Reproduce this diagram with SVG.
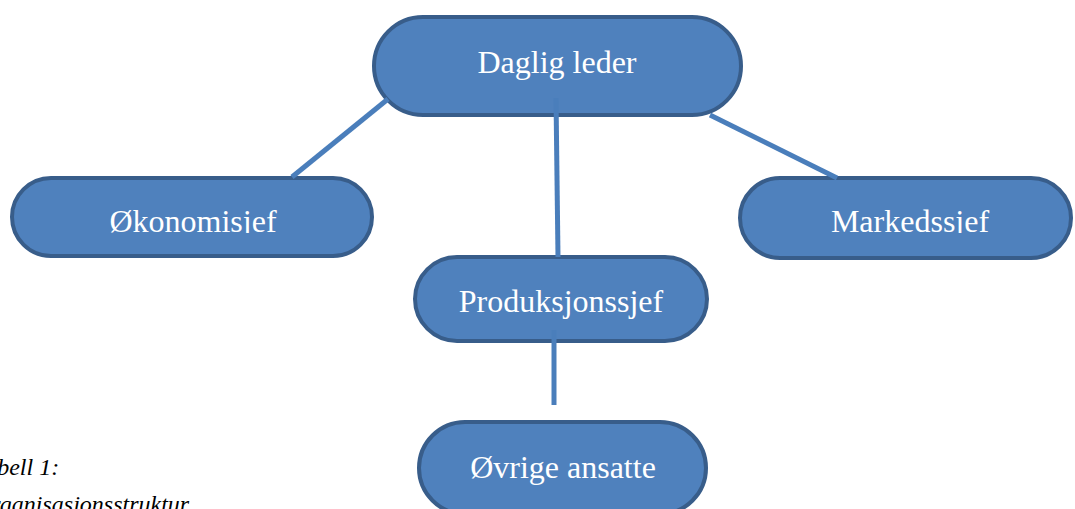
<svg xmlns="http://www.w3.org/2000/svg" width="1075" height="509" viewBox="0 0 1075 509">
<style>
.node{fill:#4F81BD;stroke:#385D8A;stroke-width:4}
.lbl{font-family:"Liberation Serif","Times New Roman",serif;font-size:32px;fill:#FFFFFF;text-anchor:middle}
.conn{stroke:#4A7EBB;stroke-width:5;fill:none}
.cap{font-family:"Liberation Serif","Times New Roman",serif;font-size:24px;font-style:italic;fill:#000000}
</style>
<defs>
<clipPath id="clipRow"><rect x="0" y="150" width="1075" height="83"/></clipPath>
</defs>
<rect width="1075" height="509" fill="#FFFFFF"/>
<g id="node-daglig">
<rect class="node" x="374" y="17" width="367" height="98" rx="49"/>
<text class="lbl" x="557" y="73">Daglig leder</text>
</g>
<g id="node-okonomi">
<rect class="node" x="12" y="178" width="360" height="78" rx="39"/>
<text class="lbl" x="193" y="232" clip-path="url(#clipRow)">Økonomisjef</text>
</g>
<g id="node-marked">
<rect class="node" x="740" y="178" width="331" height="80" rx="40"/>
<text class="lbl" x="910" y="232" clip-path="url(#clipRow)">Markedssjef</text>
</g>
<g id="node-produksjon">
<rect class="node" x="415" y="257" width="292" height="84" rx="42"/>
<text class="lbl" x="561" y="312">Produksjonssjef</text>
</g>
<g id="node-ovrige">
<rect class="node" x="419" y="422" width="287" height="92" rx="46"/>
<text class="lbl" x="563" y="478">Øvrige ansatte</text>
</g>
<g id="connectors">
<line class="conn" x1="388" y1="99" x2="292" y2="177"/>
<line class="conn" x1="556" y1="98" x2="558" y2="257"/>
<line class="conn" x1="710" y1="115" x2="837" y2="178"/>
<line class="conn" x1="554" y1="330" x2="554" y2="405"/>
</g>
<g id="caption">
<text class="cap" x="-26" y="475">Tabell 1:</text>
<text class="cap" x="-26" y="512">Organisasjonsstruktur</text>
</g>
</svg>
